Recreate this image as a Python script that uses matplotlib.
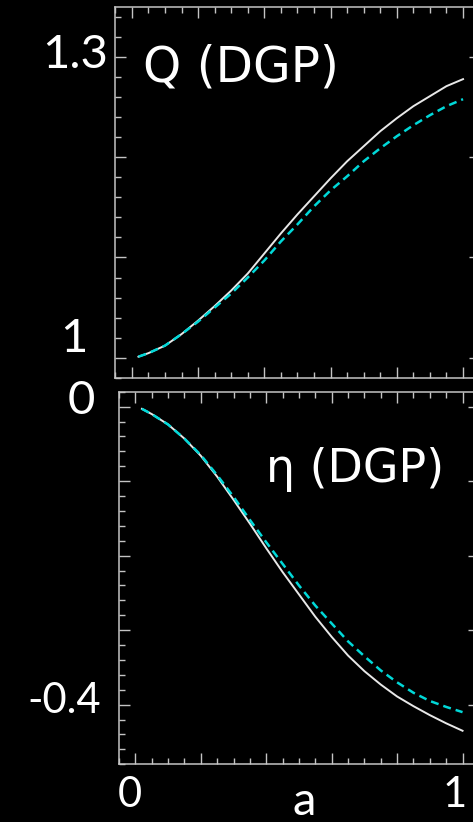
import numpy as np
import matplotlib
matplotlib.use("Agg")
import matplotlib.pyplot as plt
from matplotlib.ticker import MultipleLocator

plt.rcParams['font.family'] = ['Lato', 'DejaVu Sans']

# scale factor a
a = [0.02, 0.05, 0.10, 0.15, 0.20, 0.25, 0.30, 0.35, 0.40, 0.45, 0.50,
     0.55, 0.60, 0.65, 0.70, 0.75, 0.80, 0.85, 0.90, 0.95, 1.00]

# Q (DGP): solid white vs dashed cyan
q_solid = [1.001, 1.0045, 1.012, 1.0235, 1.037, 1.0515, 1.067, 1.084, 1.104, 1.124, 1.143,
           1.161, 1.179, 1.196, 1.211, 1.226, 1.239, 1.251, 1.261, 1.271, 1.278]
q_dash = [1.001, 1.0045, 1.012, 1.0235, 1.036, 1.050, 1.064, 1.080, 1.097, 1.116, 1.133,
          1.151, 1.167, 1.181, 1.196, 1.209, 1.221, 1.232, 1.242, 1.251, 1.258]

# eta (DGP)
eta_solid = [-0.003, -0.010, -0.024, -0.043, -0.066, -0.094, -0.125, -0.157, -0.190, -0.222, -0.252,
             -0.282, -0.309, -0.334, -0.355, -0.373, -0.389, -0.402, -0.414, -0.425, -0.435]
eta_dash = [-0.003, -0.010, -0.024, -0.043, -0.065, -0.092, -0.121, -0.152, -0.182, -0.211, -0.240,
            -0.267, -0.291, -0.315, -0.335, -0.354, -0.370, -0.384, -0.395, -0.403, -0.410]

W, H = 473, 822
fig = plt.figure(figsize=(W / 100, H / 100), dpi=100, facecolor='black')

ax1 = fig.add_axes([115.3 / W, 1 - 377.7 / H, (479.6 - 115.3) / W, (377.7 - 7) / H])
ax2 = fig.add_axes([119 / W, 1 - 764.3 / H, (478.9 - 119) / W, (764.3 - 391.7) / H])

spine_col = '#c4c4c4'
for ax in (ax1, ax2):
    ax.set_facecolor('black')
    for s in ax.spines.values():
        s.set_color(spine_col)
        s.set_linewidth(1.1)
    ax.tick_params(which='both', direction='in', top=True, right=True, colors=spine_col,
                   labelleft=False, labelbottom=False)
    ax.tick_params(which='major', length=8, width=1.0)
    ax.tick_params(which='minor', length=4, width=1.0)
    ax.xaxis.set_major_locator(MultipleLocator(0.2))
    ax.xaxis.set_minor_locator(MultipleLocator(0.05))
    ax.yaxis.set_major_locator(MultipleLocator(0.1))
    ax.yaxis.set_minor_locator(MultipleLocator(0.02))
    ax.set_xlim(-0.05, 1.05)

ax1.plot(a, q_solid, color='#e8e8e8', lw=1.4)
ax1.plot(a, q_dash, color='#00d8d8', lw=1.8, linestyle=(0, (3.2, 2)))
ax1.set_ylim(0.98, 1.35)

ax2.plot(a, eta_solid, color='#e8e8e8', lw=1.4)
ax2.plot(a, eta_dash, color='#00d8d8', lw=1.8, linestyle=(0, (3.2, 2)))
ax2.set_ylim(-0.48, 0.02)

# hand-placed tick labels, like the original slide
def ylab(ax, val, txt, dx, dy, size):
    ax.annotate(txt, xy=(0, val), xycoords=ax.get_yaxis_transform(),
                xytext=(dx, dy), textcoords='offset pixels',
                ha='center', va='baseline', color='white', fontsize=size,
                annotation_clip=False)

def xlab(ax, val, txt, dx, dy, size):
    ax.annotate(txt, xy=(val, 0), xycoords=ax.get_xaxis_transform(),
                xytext=(dx, dy), textcoords='offset pixels',
                ha='center', va='baseline', color='white', fontsize=size,
                annotation_clip=False)

ylab(ax1, 1.3, '1.3', -40, -10.7, 34)
ylab(ax1, 1.0, '1', -41, 5.7, 34)
ylab(ax2, 0.0, '0', -38, -7.5, 34)
ylab(ax2, -0.4, '-0.4', -55, -8.7, 30)
xlab(ax2, 0.0, '0', -5.7, -42.7, 30)
xlab(ax2, 1.0, '1', -8, -42.7, 30)

fig.text(304.5 / W, 1 - 815 / H, 'a', ha='center', va='baseline', color='white', fontsize=34)
fig.text(143 / W, 1 - 82 / H, 'Q (DGP)', ha='left', va='baseline', color='white',
         fontsize=35, family='DejaVu Sans')
fig.text(355 / W, 1 - 481.7 / H, '\u03b7 (DGP)', ha='center', va='baseline', color='white',
         fontsize=33, family='DejaVu Sans')

fig.savefig('out.png', dpi=100, facecolor='black')
